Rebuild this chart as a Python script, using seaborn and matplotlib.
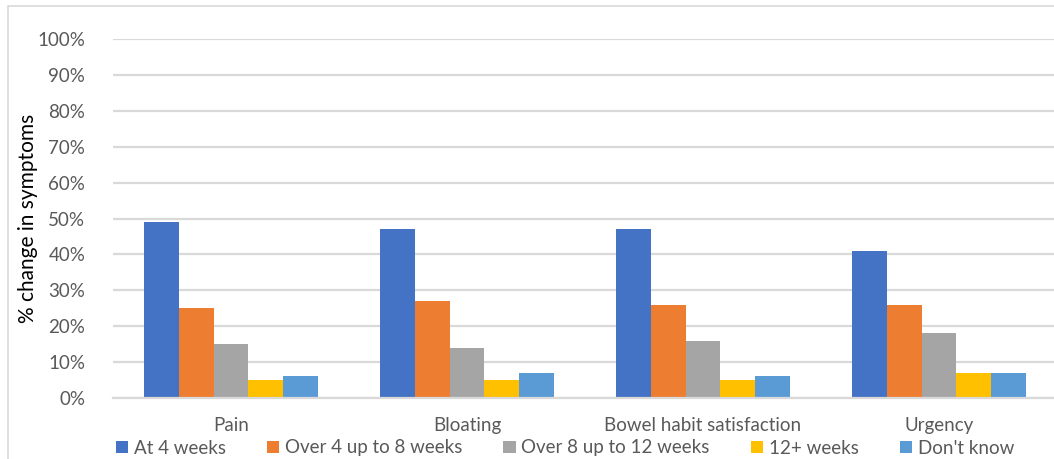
import matplotlib
matplotlib.use("Agg")
import matplotlib.pyplot as plt
from matplotlib.patches import Rectangle
from matplotlib.ticker import FuncFormatter
import seaborn as sns
import pandas as pd

categories = ["Pain", "Bloating", "Bowel habit satisfaction", "Urgency"]
periods = ["At 4 weeks", "Over 4 up to 8 weeks", "Over 8 up to 12 weeks", "12+ weeks", "Don't know"]
at_4_weeks = [49, 47, 47, 41]
over_4_to_8 = [25, 27, 26, 26]
over_8_to_12 = [15, 14, 16, 18]
over_12 = [5, 5, 5, 7]
dont_know = [6, 7, 6, 7]
colors = ["#4472C4", "#ED7D31", "#A5A5A5", "#FFC000", "#5B9BD5"]

series = [at_4_weeks, over_4_to_8, over_8_to_12, over_12, dont_know]
rows = []
for period, vals in zip(periods, series):
    for cat, v in zip(categories, vals):
        rows.append({"Symptom": cat, "Period": period, "Value": v})
df = pd.DataFrame(rows)

sns.set_style("white")
plt.rcParams["font.family"] = ["Lato", "DejaVu Sans"]

W, H = 1054, 459
fig = plt.figure(figsize=(W / 100, H / 100), dpi=100)
left, right, top, bottom = 113, 1057, 39, 398
ax = fig.add_axes([left / W, 1 - bottom / H, (right - left) / W, (bottom - top) / H])

sns.barplot(data=df, x="Symptom", y="Value", hue="Period", order=categories,
            hue_order=periods, palette=colors, width=0.735, gap=0,
            saturation=1, ax=ax, legend=True, errorbar=None, linewidth=0)

ax.set_xlim(-0.5, 3.5)
ax.set_ylim(0, 100)
ax.set_yticks(range(0, 101, 10))
ax.yaxis.set_major_formatter(FuncFormatter(lambda v, _: f"{int(v)}%"))
ax.grid(axis="y", color="#D9D9D9", linewidth=1.6)
ax.set_axisbelow(True)
for s in ["left", "right", "top"]:
    ax.spines[s].set_visible(False)
ax.spines["bottom"].set_color("#D9D9D9")
ax.spines["bottom"].set_linewidth(1.6)
ax.tick_params(axis="y", length=0, pad=20, labelsize=13.5, labelcolor="#595959")
ax.tick_params(axis="x", length=0, pad=14, labelsize=13.5, labelcolor="#595959")
ax.set_xlabel("")
ax.set_ylabel("% change in symptoms", fontsize=15, color="black")
ax.yaxis.set_label_coords((38 - left) / (right - left), 0.5)

handles, labels = ax.get_legend_handles_labels()
ax.get_legend().remove()
fig.legend(handles, labels, loc="center", bbox_to_anchor=(565 / W, 1 - 448 / H),
           ncol=5, frameon=False, fontsize=13.5, handlelength=0.65, handleheight=0.65,
           handletextpad=0.3, columnspacing=2.2, labelcolor="#595959",
           borderaxespad=0, borderpad=0)

fig.patches.append(Rectangle((8 / W, -0.1), 1.2, 1 - 6 / H + 0.1, transform=fig.transFigure,
                             fill=False, edgecolor="#D9D9D9", linewidth=1.2))

fig.savefig("out.png", dpi=100)
